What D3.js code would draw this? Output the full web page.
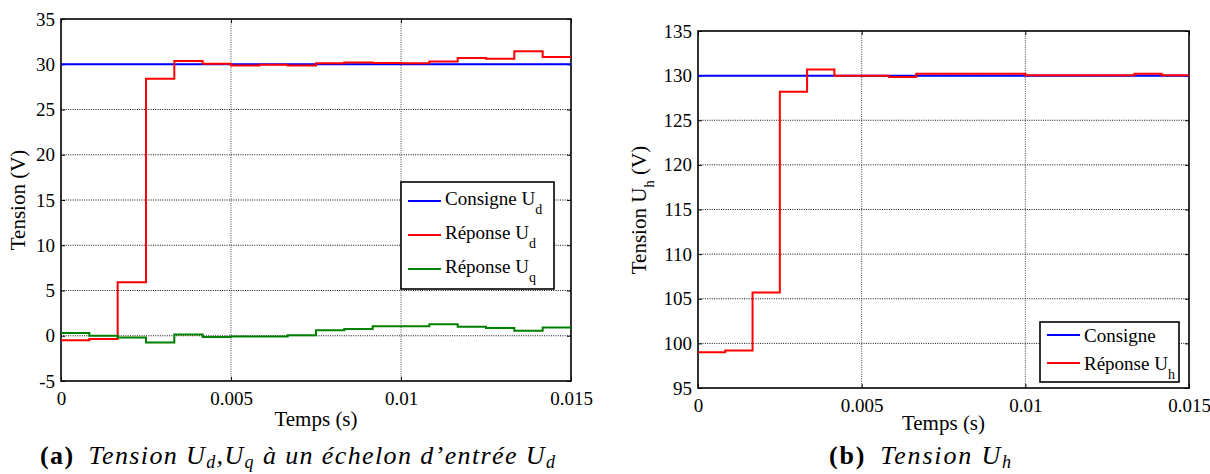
<!DOCTYPE html>
<html>
<head>
<meta charset="utf-8">
<script src="https://cdn.jsdelivr.net/npm/d3@7/dist/d3.min.js"></script>
<style>
  body { margin: 0; background: #fff; }
  svg text { font-family: "Liberation Serif", "Tinos", "Times New Roman", "Times", "Noto Serif", "DejaVu Serif", serif; fill: #000; }
</style>
</head>
<body>
<svg id="chart" width="1210" height="474"></svg>
<script>
// sample instants (s), one sample every 1/1200 s
const times = [0, 0.000833, 0.001667, 0.0025, 0.003333, 0.004167, 0.005, 0.005833, 0.006667,
  0.0075, 0.008333, 0.009167, 0.01, 0.010833, 0.011667, 0.0125, 0.013333, 0.014167, 0.015]

// panel (a)
const udRef = [30, 30, 30, 30, 30, 30, 30, 30, 30, 30, 30, 30, 30, 30, 30, 30, 30, 30, 30]
const udResp = [-0.5, -0.35, 5.9, 28.4, 30.35, 30.05, 29.85, 29.95, 29.85, 30.1, 30.2, 30.15, 30.1,
  30.3, 30.7, 30.6, 31.45, 30.8, 30.8]
const uqResp = [0.3, 0.0, -0.2, -0.75, 0.15, -0.15, -0.07, -0.07, 0.05, 0.6, 0.75, 1.05, 1.05,
  1.27, 1.0, 0.85, 0.55, 0.9, 0.9]

// panel (b)
const uhRef = [130, 130, 130, 130, 130, 130, 130, 130, 130, 130, 130, 130, 130, 130, 130, 130, 130, 130, 130]
const uhResp = [99.0, 99.2, 105.7, 128.2, 130.7, 130.0, 130.0, 129.85, 130.2, 130.2, 130.2, 130.2,
  130.05, 130.05, 130.05, 130.05, 130.2, 130.05, 130.05]

const xTicks = [0, 0.005, 0.01, 0.015]
const xTickLabels = ['0', '0.005', '0.01', '0.015']
const yTicksA = [-5, 0, 5, 10, 15, 20, 25, 30, 35]
const yTickLabelsA = ['-5', '0', '5', '10', '15', '20', '25', '30', '35']
const yTicksB = [95, 100, 105, 110, 115, 120, 125, 130, 135]

const svg = d3.select('#chart')

function panel (cfg) {

    const x = d3.scaleLinear().domain([0, 0.015]).range([cfg.left, cfg.right])
    const y = d3.scaleLinear().domain(cfg.ydomain).range([cfg.bottom, cfg.top])
    const g = svg.append('g')

    // grid
    const grid = g.append('g')
    grid.selectAll('.hg').data(cfg.yticks.slice(1, -1)).enter().append('line')
        .attr('x1', cfg.left).attr('x2', cfg.right)
        .attr('y1', d => y(d)).attr('y2', d => y(d))
        .attr('stroke', '#111').attr('stroke-width', 1).attr('stroke-dasharray', '1,1.3')
    grid.selectAll('.vg').data(xTicks.slice(1, -1)).enter().append('line')
        .attr('x1', d => x(d)).attr('x2', d => x(d))
        .attr('y1', cfg.top).attr('y2', cfg.bottom)
        .attr('stroke', '#444').attr('stroke-width', 1).attr('stroke-dasharray', '1,1.3')

    // axes with inward ticks
    const yaxis = d3.axisLeft(y).tickValues(cfg.yticks).tickSize(-4).tickPadding(6)
        .tickFormat((d, i) => cfg.yticklabels[i])
    const yaxis2 = d3.axisRight(y).tickValues(cfg.yticks).tickSize(-4).tickFormat('')
    const xaxis = d3.axisBottom(x).tickValues(xTicks).tickSize(-4).tickPadding(11)
        .tickFormat((d, i) => xTickLabels[i])
    const xaxis2 = d3.axisTop(x).tickValues(xTicks).tickSize(-4).tickFormat('')

    g.append('g').attr('transform', `translate(${cfg.left},0)`).call(yaxis)
    g.append('g').attr('transform', `translate(${cfg.right},0)`).call(yaxis2)
    g.append('g').attr('transform', `translate(0,${cfg.bottom})`).call(xaxis)
    g.append('g').attr('transform', `translate(0,${cfg.top})`).call(xaxis2)
    g.selectAll('.domain').remove()
    g.selectAll('.tick line').attr('stroke', '#000').attr('stroke-width', 1)
    g.selectAll('.tick text').attr('font-size', 19)

    // frame
    g.append('rect')
        .attr('x', cfg.left).attr('y', cfg.top)
        .attr('width', cfg.right - cfg.left).attr('height', cfg.bottom - cfg.top)
        .attr('fill', 'none').attr('stroke', '#000').attr('stroke-width', 1.6)

    // series
    const line = d3.line().x((d, i) => x(times[i])).y(d => y(d)).curve(d3.curveStepAfter)
    cfg.series.forEach(s => {
        g.append('path').datum(s.values)
            .attr('d', line).attr('fill', 'none')
            .attr('stroke', s.color).attr('stroke-width', 2)
    })

    // legend
    const lg = g.append('g')
    lg.append('rect')
        .attr('x', cfg.legend.x).attr('y', cfg.legend.y)
        .attr('width', cfg.legend.w).attr('height', cfg.legend.h)
        .attr('fill', '#fff').attr('stroke', '#000').attr('stroke-width', 1.6)
    cfg.series.forEach((s, i) => {
        const ly = cfg.legend.y + cfg.legend.first + i * cfg.legend.step
        lg.append('line')
            .attr('x1', cfg.legend.x + 7).attr('x2', cfg.legend.x + 40)
            .attr('y1', ly).attr('y2', ly)
            .attr('stroke', s.color).attr('stroke-width', 2)
        const t = lg.append('text')
            .attr('x', cfg.legend.x + 44).attr('y', ly + cfg.legend.base)
            .attr('font-size', 19)
        t.append('tspan').text(s.name)
        if (s.sub) t.append('tspan').attr('font-size', 14).attr('dy', 9).text(s.sub)
    })

    // axis labels
    g.append('text')
        .attr('x', (cfg.left + cfg.right) / 2).attr('y', cfg.xlabelY)
        .attr('text-anchor', 'middle').attr('font-size', 21)
        .text('Temps (s)')

    const yl = g.append('text')
        .attr('transform', `translate(${cfg.ylabelX},${cfg.ylabelY}) rotate(-90)`)
        .attr('text-anchor', 'middle').attr('font-size', 21)
    cfg.ylabel.forEach(p => {
        const ts = yl.append('tspan').text(p.t)
        if (p.sub) ts.attr('font-size', 15).attr('dy', 8)
        if (p.after) ts.attr('dy', -8)
    })

    // caption, stretched to the width it has in the figure
    const cap = svg.append('text').attr('x', cfg.capX).attr('y', 464).attr('font-size', 26)
        .attr('textLength', cfg.capW).attr('lengthAdjust', 'spacing')
    cap.append('tspan').attr('font-weight', 'bold').text(cfg.capTag)
    cfg.caption.forEach((p, i) => {
        const ts = cap.append('tspan').attr('font-style', 'italic').text(p.t)
        if (i === 0) ts.attr('dx', 14)
        if (p.sub) ts.attr('font-size', 18).attr('dy', 4)
        if (p.after) ts.attr('dy', -4)
    })
}

panel({
    left: 61, right: 571, top: 19, bottom: 381,
    ydomain: [-5, 35], yticks: yTicksA, yticklabels: yTickLabelsA,
    series: [
        { name: 'Consigne U', sub: 'd', values: udRef, color: '#0000ff' },
        { name: 'Réponse U', sub: 'd', values: udResp, color: '#ff0000' },
        { name: 'Réponse U', sub: 'q', values: uqResp, color: '#008000' }
    ],
    legend: { x: 401, y: 182, w: 153, h: 107, first: 19, step: 34, base: 4 },
    xlabelY: 426,
    ylabelX: 25, ylabelY: 200,
    ylabel: [{ t: 'Tension  (V)' }],
    capX: 40, capW: 515, capTag: '(a)',
    caption: [{ t: 'Tension U' }, { t: 'd', sub: true }, { t: ',U', after: true }, { t: 'q', sub: true },
        { t: ' à un échelon d’entrée U', after: true }, { t: 'd', sub: true }]
})

panel({
    left: 698, right: 1189, top: 31, bottom: 388,
    ydomain: [95, 135], yticks: yTicksB, yticklabels: yTicksB.map(String),
    series: [
        { name: 'Consigne', values: uhRef, color: '#0000ff' },
        { name: 'Réponse U', sub: 'h', values: uhResp, color: '#ff0000' }
    ],
    legend: { x: 1040, y: 322, w: 139, h: 60, first: 13, step: 28, base: 7 },
    xlabelY: 430,
    ylabelX: 646, ylabelY: 210,
    ylabel: [{ t: 'Tension U' }, { t: 'h', sub: true }, { t: ' (V)', after: true }],
    capX: 829, capW: 182, capTag: '(b)',
    caption: [{ t: 'Tension U' }, { t: 'h', sub: true }]
})
</script>
</body>
</html>
